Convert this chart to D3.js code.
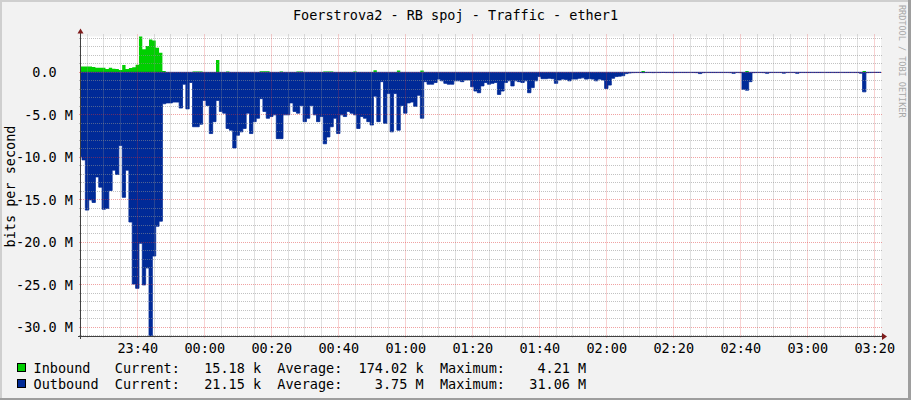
<!DOCTYPE html>
<html><head><meta charset="utf-8">
<script src="https://cdn.jsdelivr.net/npm/d3@7"></script>
<style>
html,body{margin:0;padding:0;background:#fff;}
svg{display:block;}
text{font-family:"DejaVu Sans Mono",monospace;white-space:pre;}
</style></head><body>
<svg id="chart" width="911" height="400"></svg>
<script>
const title = "Foerstrova2 - RB spoj - Traffic - ether1";
const yAxisTitle = "bits per second";
const watermark = "RRDTOOL / TOBI OETIKER";

// one sample per minute, first sample at 23:22:30
const firstSample = [2012, 2, 10, 23, 22, 30];
const viewStart = [2012, 2, 10, 23, 23, 12];
const viewEnd = [2012, 2, 11, 3, 22, 0];

// Inbound traffic, Mbit/s
const inbound = [
0.67,0.67,0.67,0.67,0.62,0.55,0.55,0.55,0.4,0.55,
0.42,0.4,0.27,0.86,0.4,0.5,0.6,0.9,4.21,2.7,
3.1,3.85,3.75,2.9,2.3,0.15,0.03,0.03,0.03,0.03,
0.03,0.03,0.03,0.03,0.1,0.1,0.1,0.03,0.03,0.03,
0.03,1.45,0.03,0.03,0.1,0.04,0.04,0.04,0.04,0.04,
0.04,0.04,0.04,0.04,0.12,0.12,0.12,0.03,0.03,0.03,
0.1,0.03,0.03,0.03,0.03,0.1,0.1,0.03,0.03,0.03,
0.03,0.03,0.03,0.1,0.1,0.1,0.03,0.03,0.03,0.03,
0.03,0.03,0.1,0.03,0.03,0.03,0.03,0.03,0.25,0.02,
0.02,0.02,0.02,0.02,0.02,0.2,0.02,0.02,0.02,0.02,
0.02,0.02,0.2,0.02,0.02,0.02,0.02,0.02,0.02,0.02,
0.02,0.02,0.02,0.02,0.02,0.02,0.02,0.02,0.02,0.02,
0.02,0.02,0.02,0.02,0.02,0.02,0.02,0.02,0.02,0.02,
0.02,0.02,0.02,0.02,0.02,0.02,0.02,0.02,0.02,0.02,
0.02,0.02,0.02,0.02,0.02,0.02,0.02,0.02,0.02,0.02,
0.02,0.02,0.02,0.02,0.02,0.02,0.02,0.02,0.02,0.02,
0.02,0.02,0.02,0.02,0.02,0.02,0.02,0.02,0.15,0.02,
0.02,0.02,0.02,0.02,0.02,0.02,0.02,0.02,0.02,0.02,
0.02,0.02,0.02,0.02,0.02,0.02,0.02,0.02,0.02,0.02,
0.02,0.02,0.02,0.02,0.02,0.02,0.02,0.02,0.02,0.15,
0.02,0.02,0.02,0.02,0.02,0.02,0.02,0.02,0.02,0.02,
0.02,0.02,0.02,0.02,0.02,0.02,0.02,0.02,0.02,0.02,
0.02,0.02,0.02,0.02,0.02,0.02,0.02,0.02,0.02,0.02,
0.02,0.02,0.02,0.02,0.15,0.02,0.02,0.02,0.015,0.015
];

// Outbound traffic, Mbit/s (drawn below zero)
const outbound = [
9.9,10.3,16.2,15.0,15.3,12.3,13.5,16.1,16.0,13.9,
11.5,12.0,8.6,14.7,11.5,17.6,24.9,25.4,20.1,25.0,
23.0,31.06,21.6,18.1,17.5,3.7,3.6,3.6,3.5,3.5,
4.2,1.4,4.3,1.2,6.4,6.4,6.1,3.3,3.9,7.2,
5.8,3.3,4.6,4.8,6.6,6.8,8.9,7.4,7.0,6.6,
4.8,7.2,5.8,5.4,3.1,4.6,5.4,5.2,5.0,7.8,
7.8,5.0,5.0,3.6,4.6,4.8,3.9,5.8,5.4,3.9,
5.0,5.8,5.2,8.4,7.6,6.4,5.4,7.2,5.0,5.2,
4.6,4.8,5.0,6.6,5.2,5.4,5.8,6.2,2.8,5.8,
1.1,6.0,2.5,7.0,2.5,6.8,3.9,4.8,3.6,3.5,
4.0,2.7,5.4,1.1,1.4,1.4,1.2,0.8,1.0,1.3,
1.4,1.4,1.0,1.0,1.1,0.9,0.9,1.7,2.2,2.4,
1.6,1.2,1.4,1.3,1.2,2.6,2.2,1.2,1.0,1.6,
1.0,1.1,1.2,1.0,2.4,1.8,1.0,0.5,0.75,0.75,
0.7,0.75,1.3,0.9,0.8,0.85,1.0,0.8,0.8,0.7,
0.65,0.8,0.75,0.8,1.0,0.8,0.9,1.9,1.5,0.7,
0.5,0.45,0.4,0.15,0.08,0.04,0.03,0.03,0.04,0.03,
0.03,0.04,0.03,0.03,0.02,0.03,0.03,0.04,0.03,0.03,
0.03,0.03,0.03,0.03,0.04,0.15,0.04,0.03,0.03,0.03,
0.03,0.03,0.03,0.03,0.04,0.12,0.03,0.04,2.0,2.1,
1.1,0.04,0.03,0.03,0.04,0.12,0.03,0.03,0.03,0.03,
0.1,0.03,0.03,0.03,0.12,0.03,0.03,0.03,0.03,0.03,
0.03,0.03,0.03,0.03,0.03,0.03,0.03,0.03,0.03,0.03,
0.03,0.03,0.03,0.1,2.3,0.04,0.03,0.02,0.02,0.021
];

const yTickValues = [0, -5, -10, -15, -20, -25, -30];
const yTickLabels = ["0.0  ", "-5.0 M", "-10.0 M", "-15.0 M", "-20.0 M", "-25.0 M", "-30.0 M"];
const xTickLabels = ["23:40","00:00","00:20","00:40","01:00","01:20","01:40","02:00","02:20","02:40","03:00","03:20"];

const seriesNames = ["Inbound", "Outbound"];
const seriesColors = ["#00CF00", "#002A97"];
const currentVals = ["15.18 k", "21.15 k"];
const averageVals = ["174.02 k", "3.75 M"];
const maximumVals = ["4.21 M", "31.06 M"];

const W = 911, H = 400;
const PL = 81, PR = 881, PT = 36.5, PB = 336.5;
const svg = d3.select("#chart");

const mkDate = a => new Date(a[0], a[1], a[2], a[3], a[4], a[5]);
const t0 = mkDate(firstSample);
const x = d3.scaleTime().domain([mkDate(viewStart), mkDate(viewEnd)]).range([PL, PR]);
const y = d3.scaleLinear().domain([-31.06, 4.21]).range([PB, PT]);

// background & shading frame
svg.append("rect").attr("x",0).attr("y",0).attr("width",W).attr("height",H).attr("fill","#F2F2F2");
svg.append("rect").attr("x",0).attr("y",0).attr("width",W).attr("height",2).attr("fill","#CFCFCF");
svg.append("rect").attr("x",0).attr("y",0).attr("width",2).attr("height",H).attr("fill","#CFCFCF");
svg.append("rect").attr("x",0).attr("y",H-2).attr("width",W).attr("height",2).attr("fill","#9E9E9E");
svg.append("rect").attr("x",W-3).attr("y",0).attr("width",3).attr("height",H).attr("fill","#9E9E9E");

// canvas
svg.append("rect").attr("x",PL).attr("y",PT).attr("width",PR-PL).attr("height",PB-PT).attr("fill","#FFFFFF");

svg.append("clipPath").attr("id","clip").append("rect")
  .attr("x",PL).attr("y",PT-1).attr("width",PR-PL).attr("height",PB-PT+1);

function series(vals, sign) {
  const pts = vals.map((v,i) => ({t: d3.timeMinute.offset(t0, i), v: sign*v}));
  pts.push({t: d3.timeMinute.offset(t0, vals.length), v: sign*vals[vals.length-1]});
  return pts;
}
const area = d3.area().x(d => x(d.t)).y0(y(0)).y1(d => y(d.v)).curve(d3.curveStepAfter);

const g = svg.append("g").attr("clip-path","url(#clip)");
g.append("path").datum(series(inbound, 1)).attr("d", area).attr("fill", seriesColors[0]);
g.append("path").datum(series(outbound, -1)).attr("d", area).attr("fill", seriesColors[1])
  .attr("stroke", seriesColors[1]).attr("stroke-width", 0.8);

// grid
const px = v => Math.floor(v) + 0.5;
const grid = svg.append("g");
const minorT = d3.timeMinute.every(5).range(x.domain()[0], x.domain()[1]);
const majorT = xTickLabels.map(s => {
  const [h, m] = s.split(":").map(Number);
  return new Date(2012, 2, h >= 12 ? 10 : 11, h, m, 0);
});
const isMajorT = t => t.getMinutes() % 20 === 0;
const minorGridColor = "rgba(143,143,143,0.55)";
const majorGridColor = "rgba(222,48,48,0.45)";
grid.selectAll(".vmin").data(minorT.filter(t => !isMajorT(t))).join("line")
  .attr("x1", d => px(x(d))).attr("x2", d => px(x(d))).attr("y1", PT-2).attr("y2", PB+2)
  .attr("stroke", minorGridColor).attr("stroke-dasharray","1,1");
const yMinor = d3.range(-31, 5, 1).filter(v => v % 5 !== 0 && v >= -31.06 && v <= 4.21);
grid.selectAll(".hmin").data(yMinor).join("line")
  .attr("x1", PL-2).attr("x2", PR+2).attr("y1", d => px(y(d))).attr("y2", d => px(y(d)))
  .attr("stroke", minorGridColor).attr("stroke-dasharray","1,1");
grid.selectAll(".vmaj").data(majorT).join("line")
  .attr("x1", d => px(x(d))).attr("x2", d => px(x(d))).attr("y1", PT-2).attr("y2", PB+2)
  .attr("stroke", majorGridColor).attr("stroke-dasharray","1,1");
grid.selectAll(".hmaj").data(yTickValues).join("line")
  .attr("x1", PL-2).attr("x2", PR+2).attr("y1", d => px(y(d))).attr("y2", d => px(y(d)))
  .attr("stroke", majorGridColor).attr("stroke-dasharray","1,1");

// axes
const axisColor = "#404040", arrowColor = "#7F1C1C";
svg.append("line").attr("x1", 80.5).attr("x2", 80.5).attr("y1", PB+2.5).attr("y2", 31).attr("stroke", axisColor);
svg.append("line").attr("x1", 78).attr("x2", 884).attr("y1", PB).attr("y2", PB).attr("stroke", axisColor);
svg.append("path").attr("d", "M77.5,33.5L80.5,28.5L83.5,33.5Z").attr("fill", arrowColor);
svg.append("path").attr("d", "M882,333L887,336.5L882,340Z").attr("fill", arrowColor);

// title
const FS = 13.5;
svg.append("text").attr("x", W/2).attr("y", 19.5).attr("text-anchor","middle")
  .attr("font-size", FS).attr("fill","#000").text(title);

// y labels
svg.selectAll(".ylab").data(yTickValues).join("text")
  .attr("x", 73).attr("y", d => y(d) + 4.9).attr("text-anchor","end")
  .attr("font-size", FS).attr("fill","#000").text((d,i) => yTickLabels[i]);

// x labels
svg.selectAll(".xlab").data(majorT).join("text")
  .attr("x", d => x(d) + 0.5).attr("y", 353).attr("text-anchor","middle")
  .attr("font-size", FS).attr("fill","#000").text((d,i) => xTickLabels[i]);

// y axis title
svg.append("text").attr("transform", `translate(14.5,${(PT+PB)/2}) rotate(-90)`)
  .attr("text-anchor","middle").attr("font-size", FS).attr("fill","#000").text(yAxisTitle);

// watermark
svg.append("text").attr("transform", "translate(899,5) rotate(90)")
  .attr("font-size", 8.5).attr("fill","#A8A8A8").text(watermark);

// legend
const legendRows = [373, 389];
seriesNames.forEach((name, i) => {
  svg.append("rect").attr("x", 17.5).attr("y", legendRows[i]-9.5).attr("width", 8).attr("height", 8)
    .attr("fill", seriesColors[i]).attr("stroke", "#000").attr("stroke-width", 1);
  const line = name.padEnd(10) + "Current:" + currentVals[i].padStart(10) +
    "  Average:" + averageVals[i].padStart(10) + "  Maximum:" + maximumVals[i].padStart(10);
  svg.append("text").attr("x", 33.5).attr("y", legendRows[i]).attr("font-size", FS)
    .attr("fill","#000").text(line);
});
</script>
</body></html>
